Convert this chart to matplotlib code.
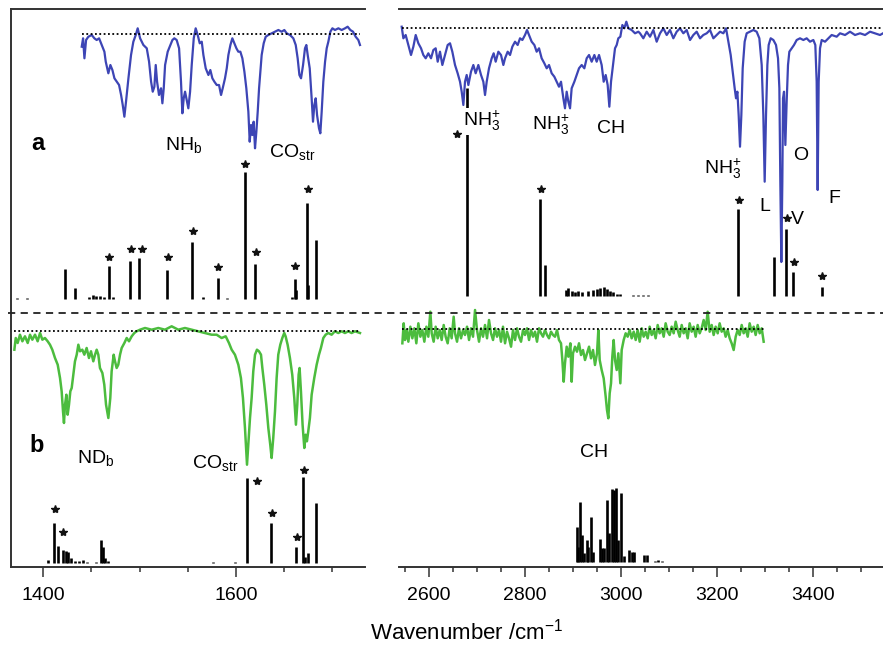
"""IR spectra (a: blue, b: green) with computed stick spectra, broken wavenumber axis."""

import numpy as np
import matplotlib

matplotlib.use("Agg")
import matplotlib.pyplot as plt
from matplotlib.lines import Line2D
from matplotlib.ticker import MultipleLocator

plt.rcParams["font.family"] = ["Liberation Sans", "DejaVu Sans"]
plt.rcParams["mathtext.fontset"] = "custom"
plt.rcParams["mathtext.rm"] = "Liberation Sans"
plt.rcParams["mathtext.it"] = "Liberation Sans:italic"
plt.rcParams["mathtext.bf"] = "Liberation Sans:bold"

# ---- experimental spectra (wavenumber, signal relative to baseline) ----
blue_low = np.array([
    (1440.1, -12.7), (1441.5, -4.3), (1442.9, -24.3), (1444.6, -6.0), (1447.0, -2.7),
    (1450.5, -1.0), (1453.2, -4.3), (1455.6, -6.0), (1458.1, -4.3), (1460.8, -11.0),
    (1463.6, -17.7), (1465.0, -27.7), (1467.7, -39.3), (1469.8, -31.0), (1471.9, -36.0),
    (1474.0, -44.3), (1476.4, -47.7), (1478.8, -51.0), (1480.9, -61.0), (1482.6, -71.0),
    (1484.3, -82.7), (1486.0, -67.7), (1488.5, -44.3), (1491.2, -21.0), (1493.6, -7.7),
    (1496.1, -1.0), (1498.1, 5.7), (1500.6, -4.3), (1504.0, -11.0), (1507.5, -14.3),
    (1509.9, -27.7), (1512.0, -47.7), (1513.7, -57.7), (1515.4, -52.7), (1516.8, -31.0),
    (1518.2, -47.7), (1520.2, -61.0), (1522.3, -54.3), (1523.7, -69.3), (1525.1, -54.3),
    (1526.5, -31.0), (1529.2, -17.7), (1532.0, -11.0), (1534.1, -6.0), (1536.1, -4.3),
    (1538.5, -6.0), (1541.0, -14.3), (1543.0, -47.7), (1544.4, -79.3), (1545.8, -64.3),
    (1547.2, -57.7), (1549.3, -67.7), (1550.6, -74.3), (1552.4, -57.7), (1554.1, -31.0),
    (1556.2, -4.3), (1558.2, 5.7), (1560.3, -1.0), (1562.4, -9.3), (1564.5, -7.7),
    (1566.2, -21.0), (1568.6, -34.3), (1571.4, -41.0), (1573.4, -36.0), (1575.5, -44.3),
    (1577.6, -47.7), (1580.0, -51.0), (1582.4, -51.0), (1584.5, -61.0), (1586.2, -54.3),
    (1588.6, -44.3), (1590.4, -34.3), (1592.1, -21.0), (1594.2, -11.0), (1596.2, -4.3),
    (1598.3, -9.3), (1600.4, -14.3), (1602.4, -17.7), (1604.5, -17.7), (1606.6, -24.3),
    (1608.7, -37.7), (1610.7, -54.3), (1612.8, -77.7), (1614.2, -107.7), (1615.6, -91.0),
    (1616.9, -101.0), (1618.3, -87.7), (1619.7, -114.3), (1621.1, -97.7), (1622.5, -77.7),
    (1623.9, -54.3), (1625.2, -37.7), (1626.6, -21.0), (1628.7, -9.3), (1630.8, -2.7),
    (1633.5, -1.0), (1637.0, 0.7), (1640.4, 2.3), (1643.9, 4.0), (1647.3, 2.3),
    (1650.1, 4.0), (1652.5, 0.7), (1656.0, -1.0), (1659.4, -4.3), (1661.9, -11.0),
    (1663.9, -24.3), (1665.7, -41.0), (1667.4, -44.3), (1669.5, -31.0), (1671.5, -14.3),
    (1672.9, -11.0), (1674.3, -21.0), (1676.4, -34.3), (1678.4, -64.3), (1679.8, -87.7),
    (1681.2, -71.0), (1682.6, -64.3), (1684.0, -81.0), (1686.0, -94.3), (1687.4, -99.3),
    (1688.8, -77.7), (1690.5, -47.7), (1692.3, -27.7), (1694.0, -14.3), (1695.7, -7.7),
    (1697.8, 2.3), (1699.9, 5.7), (1702.6, 4.0), (1706.1, 5.7), (1709.5, 4.0),
    (1713.0, 5.7), (1715.7, 7.3), (1718.5, 4.0), (1721.3, 2.3), (1724.0, -2.7),
    (1726.8, -6.0), (1728.5, -11.0),
])

blue_high = np.array([
    (2543.1, 1.8), (2546.6, -9.8), (2551.4, -6.5), (2557.0, -16.5), (2562.5, -26.5),
    (2567.4, -18.2), (2572.3, -6.5), (2577.8, -14.8), (2583.4, -19.8), (2588.2, -26.5),
    (2593.1, -29.8), (2598.6, -24.8), (2604.2, -29.8), (2609.1, -21.5), (2613.9, -19.8),
    (2618.1, -33.2), (2622.9, -23.2), (2627.8, -36.5), (2633.4, -26.5), (2638.9, -16.5),
    (2643.8, -14.8), (2648.6, -23.2), (2654.2, -36.5), (2659.7, -44.8), (2664.6, -53.2),
    (2668.1, -63.2), (2671.6, -76.5), (2675.0, -53.2), (2678.5, -46.5), (2682.0, -56.5),
    (2687.5, -43.2), (2692.4, -36.5), (2697.2, -44.8), (2702.8, -36.5), (2708.4, -46.5),
    (2713.2, -53.2), (2716.7, -66.5), (2720.2, -53.2), (2725.0, -39.8), (2730.6, -29.8),
    (2734.7, -24.8), (2738.9, -33.2), (2744.5, -23.2), (2750.0, -26.5), (2754.9, -36.5),
    (2758.4, -29.8), (2763.9, -23.2), (2768.8, -26.5), (2773.6, -18.2), (2779.2, -13.2),
    (2784.7, -16.5), (2789.6, -9.8), (2794.5, -11.5), (2800.0, -6.5), (2804.2, -1.5),
    (2808.4, -6.5), (2813.9, -13.2), (2819.5, -16.5), (2824.3, -23.2), (2829.2, -19.8),
    (2834.7, -29.8), (2840.3, -34.8), (2845.2, -39.8), (2850.0, -36.5), (2855.6, -44.8),
    (2861.1, -48.2), (2866.0, -53.2), (2870.8, -58.2), (2875.0, -53.2), (2879.9, -69.8),
    (2883.3, -79.8), (2886.8, -63.2), (2890.3, -73.2), (2893.8, -79.8), (2897.2, -59.8),
    (2902.8, -53.2), (2907.6, -46.5), (2912.5, -39.8), (2918.1, -36.5), (2923.6, -39.8),
    (2928.5, -29.8), (2933.4, -26.5), (2938.9, -33.2), (2944.5, -26.5), (2949.3, -33.2),
    (2954.2, -26.5), (2959.7, -36.5), (2963.9, -53.2), (2968.1, -46.5), (2972.2, -56.5),
    (2975.7, -78.2), (2979.2, -53.2), (2983.3, -36.5), (2987.5, -19.8), (2991.0, -16.5),
    (2994.4, -9.8), (2998.6, -8.2), (3002.8, 3.5), (3006.9, 0.2), (3011.1, 6.8),
    (3015.3, 0.2), (3022.2, -1.5), (3029.2, -4.8), (3036.1, -3.2), (3039.6, -4.8),
    (3046.5, -9.8), (3053.5, -3.2), (3060.4, -8.2), (3067.4, -1.5), (3074.3, -13.2),
    (3081.3, -4.8), (3088.2, 0.2), (3095.2, -6.5), (3102.1, -1.5), (3109.0, -9.8),
    (3116.0, -3.2), (3122.9, 0.2), (3129.9, -4.8), (3136.8, -1.5), (3143.8, -11.5),
    (3150.7, -6.5), (3157.6, -3.2), (3164.6, -9.8), (3171.5, -6.5), (3178.5, -4.8),
    (3185.4, -1.5), (3192.4, -9.8), (3199.3, -6.5), (3206.3, -3.2), (3213.2, -4.8),
    (3218.8, 0.2), (3223.6, -13.2), (3228.5, -26.5), (3232.6, -43.2), (3236.8, -59.8),
    (3239.6, -69.8), (3242.4, -63.2), (3245.1, -86.5), (3247.9, -118.2), (3250.7, -86.5),
    (3253.5, -39.8), (3257.6, -13.2), (3261.8, -4.8), (3268.8, -3.2), (3275.7, -1.5),
    (3282.6, -3.2), (3288.2, -9.8), (3293.1, -36.5), (3296.5, -86.5), (3299.3, -153.2),
    (3302.1, -86.5), (3304.9, -36.5), (3307.6, -16.5), (3311.8, -9.8), (3317.4, -11.5),
    (3322.9, -16.5), (3327.1, -29.8), (3329.9, -59.8), (3331.9, -153.2), (3334.0, -233.5),
    (3336.1, -153.2), (3337.5, -69.8), (3339.6, -63.2), (3342.4, -116.5), (3345.1, -73.2),
    (3347.9, -36.5), (3350.7, -23.2), (3355.6, -19.8), (3360.4, -16.5), (3366.0, -11.5),
    (3372.9, -9.8), (3379.9, -11.5), (3386.8, -9.8), (3393.7, -13.2), (3400.7, -11.5),
    (3404.8, -16.5), (3407.6, -53.2), (3409.7, -161.5), (3411.8, -53.2), (3414.6, -19.8),
    (3418.1, -11.5), (3425.0, -13.2), (3432.0, -9.8), (3438.9, -6.5), (3449.3, -8.2),
    (3456.3, -4.8), (3466.7, -6.5), (3477.1, -3.2), (3487.5, -6.5), (3498.0, -4.8),
    (3508.4, -6.5), (3518.8, -3.2), (3529.2, -4.8), (3539.6, -6.5), (3545.8, -4.8),
])

green_low = np.array([
    (1370.3, -18.4), (1371.7, -6.7), (1373.7, -11.7), (1376.1, -3.4), (1378.6, -10.0),
    (1381.3, -5.0), (1384.1, -11.7), (1386.5, -3.4), (1388.9, -8.4), (1391.7, -3.4),
    (1394.4, -10.0), (1396.9, -1.7), (1399.3, -8.4), (1402.0, -6.7), (1404.8, -10.0),
    (1407.2, -13.4), (1409.6, -18.4), (1412.4, -26.7), (1415.2, -33.4), (1417.6, -46.7),
    (1419.3, -60.0), (1420.7, -80.0), (1421.7, -91.7), (1422.8, -73.4), (1424.2, -63.4),
    (1425.5, -83.4), (1426.9, -73.4), (1428.3, -60.0), (1429.7, -56.7), (1431.4, -43.4),
    (1433.1, -30.0), (1434.9, -23.4), (1436.6, -13.4), (1438.3, -20.0), (1440.7, -18.4),
    (1442.8, -23.4), (1445.2, -16.7), (1447.6, -26.7), (1449.7, -20.0), (1452.1, -30.0),
    (1453.9, -23.4), (1455.6, -18.4), (1457.3, -23.4), (1459.0, -36.7), (1461.5, -41.7),
    (1463.5, -53.4), (1465.3, -73.4), (1467.7, -86.7), (1469.7, -66.7), (1471.1, -40.0),
    (1473.2, -23.4), (1474.6, -30.0), (1476.3, -36.7), (1478.0, -33.4), (1479.8, -23.4),
    (1481.5, -16.7), (1484.3, -11.7), (1486.7, -6.7), (1489.1, -10.0), (1491.9, -5.0),
    (1494.6, -1.7), (1497.0, 0.0), (1500.5, 1.6), (1505.7, 3.3), (1512.6, 1.6),
    (1519.5, 3.3), (1526.4, 1.6), (1533.3, 5.0), (1540.2, 1.6), (1547.1, 3.3),
    (1554.0, 1.6), (1560.9, 0.0), (1567.8, -1.7), (1574.7, -3.4), (1579.9, -3.4),
    (1585.1, -6.7), (1589.3, -5.0), (1592.7, -11.7), (1595.5, -18.4), (1598.9, -23.4),
    (1602.4, -33.4), (1605.1, -46.7), (1607.2, -66.7), (1609.3, -96.7), (1611.4, -133.4),
    (1612.7, -113.4), (1614.5, -86.7), (1616.2, -66.7), (1617.9, -40.0), (1619.7, -23.4),
    (1621.7, -18.4), (1623.8, -20.0), (1625.9, -23.4), (1627.3, -36.7), (1629.3, -53.4),
    (1631.4, -73.4), (1633.5, -96.7), (1635.5, -113.4), (1636.9, -126.7), (1638.6, -106.7),
    (1640.4, -80.0), (1642.1, -46.7), (1643.8, -23.4), (1645.9, -13.4), (1648.0, -6.7),
    (1650.0, -1.7), (1651.4, -5.0), (1653.5, -13.4), (1655.9, -26.7), (1658.3, -43.4),
    (1660.4, -66.7), (1662.1, -93.4), (1663.5, -73.4), (1664.9, -43.4), (1665.9, -36.7),
    (1667.3, -60.0), (1669.0, -93.4), (1670.8, -116.7), (1672.2, -103.4), (1673.5, -110.0),
    (1674.9, -100.0), (1676.6, -86.7), (1678.4, -63.4), (1681.1, -46.7), (1683.6, -33.4),
    (1686.0, -23.4), (1688.0, -16.7), (1690.5, -6.7), (1692.9, -3.4), (1695.6, -1.7),
    (1699.1, -3.4), (1702.5, 0.0), (1706.0, -1.7), (1709.5, 0.0), (1712.9, -1.7),
    (1716.4, 0.0), (1719.8, -1.7), (1723.3, 0.0), (1728.5, -1.7),
])

green_high = np.array([
    (2544.5, -14.3), (2547.3, 5.7), (2550.0, -11.0), (2553.5, -1.0), (2557.0, -12.7),
    (2561.1, 2.3), (2565.3, -9.3), (2569.5, 0.7), (2573.6, -14.3), (2577.8, 5.7),
    (2582.0, -7.7), (2586.1, -1.0), (2590.3, -12.7), (2594.5, 2.3), (2598.6, -7.7),
    (2602.8, 17.3), (2605.6, -4.3), (2609.7, -12.7), (2613.9, 2.3), (2618.1, -9.3),
    (2622.3, -1.0), (2626.4, -11.0), (2630.6, 4.0), (2634.7, -7.7), (2638.9, -14.3),
    (2643.1, 0.7), (2647.2, -9.3), (2651.4, 12.3), (2654.2, -4.3), (2658.4, -12.7),
    (2662.5, 0.7), (2666.7, -9.3), (2670.9, -1.0), (2675.0, -6.0), (2679.2, 2.3),
    (2683.4, -11.0), (2687.5, 0.7), (2691.7, -7.7), (2695.9, 19.0), (2700.0, -1.0),
    (2704.2, -12.7), (2708.4, 0.7), (2712.5, -7.7), (2716.7, 4.0), (2720.9, -9.3),
    (2725.0, 9.0), (2729.2, -4.3), (2733.4, -11.0), (2737.5, 0.7), (2741.7, -7.7),
    (2745.9, -1.0), (2750.0, -12.7), (2754.2, 2.3), (2758.4, -14.3), (2762.5, -2.7),
    (2766.7, -9.3), (2770.9, -17.7), (2775.0, -1.0), (2779.2, -11.0), (2783.4, 0.7),
    (2787.5, -7.7), (2791.7, -12.7), (2795.9, -1.0), (2800.0, -6.0), (2804.2, 0.7),
    (2808.4, -11.0), (2812.5, -1.0), (2816.7, -7.7), (2820.9, -2.7), (2825.0, -12.7),
    (2829.2, 0.7), (2833.4, -4.3), (2837.5, -7.7), (2841.7, -1.0), (2845.9, -6.0),
    (2850.0, -9.3), (2854.2, -2.7), (2858.4, -6.0), (2862.5, -7.7), (2866.7, -1.0),
    (2870.8, -11.0), (2875.0, -14.3), (2877.8, -31.0), (2880.6, -52.7), (2883.3, -34.3),
    (2886.8, -17.7), (2890.3, -27.7), (2894.5, -14.3), (2897.2, -52.7), (2900.0, -24.3),
    (2904.2, -17.7), (2908.3, -22.7), (2912.5, -14.3), (2916.7, -26.0), (2920.8, -21.0),
    (2925.0, -31.0), (2929.2, -24.3), (2933.4, -17.7), (2937.5, -29.3), (2941.7, -21.0),
    (2945.8, -36.0), (2950.0, -24.3), (2952.8, -1.0), (2955.6, -31.0), (2959.7, -41.0),
    (2963.9, -49.3), (2968.1, -67.7), (2970.8, -81.0), (2973.6, -89.3), (2976.4, -64.3),
    (2979.2, -54.3), (2981.9, -27.7), (2984.7, -11.0), (2987.5, -31.0), (2991.0, -41.0),
    (2994.4, -24.3), (2998.6, -54.3), (3001.4, -21.0), (3005.6, -11.0), (3009.7, -4.3),
    (3013.9, -7.7), (3018.1, -1.0), (3022.2, -9.3), (3026.4, -2.7), (3030.6, -11.0),
    (3034.7, -1.0), (3038.9, -12.7), (3043.1, 0.7), (3047.2, -7.7), (3051.4, -2.7),
    (3055.6, -9.3), (3059.7, 2.3), (3063.9, -6.0), (3068.1, -1.0), (3072.2, -9.3),
    (3076.4, 4.0), (3080.5, -4.3), (3084.7, 0.7), (3088.9, -7.7), (3093.0, 5.7),
    (3097.2, -2.7), (3101.4, -6.0), (3105.5, 2.3), (3109.7, -4.3), (3113.9, 7.3),
    (3118.0, -1.0), (3122.2, -7.7), (3126.4, 4.0), (3130.5, -4.3), (3134.7, 0.7),
    (3138.9, -9.3), (3143.0, 5.7), (3147.2, -2.7), (3151.4, 2.3), (3155.5, -7.7),
    (3159.7, 4.0), (3163.9, -4.3), (3168.0, 0.7), (3172.2, 9.0), (3176.4, -1.0),
    (3180.5, 17.3), (3184.7, -2.7), (3188.9, 4.0), (3193.0, -6.0), (3197.2, 2.3),
    (3201.4, -4.3), (3205.5, 5.7), (3209.7, -2.7), (3213.9, 0.7), (3218.0, -7.7),
    (3222.2, -1.0), (3226.4, -9.3), (3230.5, -14.3), (3234.7, -21.0), (3238.9, -7.7),
    (3243.0, -1.0), (3247.2, -6.0), (3251.4, 4.0), (3255.5, -4.3), (3259.7, 0.7),
    (3263.9, -7.7), (3268.0, 5.7), (3272.2, -2.7), (3276.4, 2.3), (3280.5, -6.0),
    (3284.7, 4.0), (3288.9, -4.3), (3293.1, 0.7), (3297.2, -12.7),
])

# ---- computed stick spectra (wavenumber, intensity) ----
sticks_a_low = np.array([
    (1373.5, 1), (1383.1, 1), (1422.5, 30), (1433.5, 11), (1448.0, 2), (1452.1, 4),
    (1454.9, 3), (1459.1, 3), (1463.2, 2), (1468.1, 33.3), (1472.9, 2), (1490.2, 38.3),
    (1499.8, 41), (1528.8, 29.3), (1554.1, 57), (1566.1, 2), (1581.7, 21), (1590.4, 1),
    (1609.3, 127), (1619.7, 35), (1657.7, 2), (1661.1, 20), (1662.5, 8.7), (1673.3, 96),
    (1674.5, 14), (1682.9, 59.3),
])
stars_a_low = np.array([
    (1468.1, 42), (1490.9, 50.3), (1502.6, 50.3), (1529.2, 42), (1555.7, 68.3),
    (1581.7, 32), (1609.3, 135.3), (1620.7, 47.3), (1661.4, 33), (1675.0, 110),
])

sticks_a_high = np.array([
    (2678.5, 208), (2831.3, 96.3), (2842.4, 30.7),
    (2885.4, 6), (2890.2, 8), (2897.2, 5), (2904.2, 4), (2911.1, 5), (2918.1, 4),
    (2931.9, 5), (2942.4, 6), (2949.3, 7), (2956.3, 8), (2964.6, 9), (2970.1, 7),
    (2977.1, 5), (2984.0, 4), (2992.4, 2), (2997.9, 2), (3025.6, 1), (3036.1, 1),
    (3046.5, 1), (3056.9, 1),
    (3244.4, 86.3), (3319.4, 38.3), (3343.8, 66.3), (3359.0, 24), (3418.1, 9),
])
stars_a_high = np.array([
    (2657.6, 161.3), (2833.3, 106.7), (3246.5, 95.7), (3346.5, 77.3), (3361.0, 34),
    (3419.4, 19.7),
])

sticks_b_low = np.array([
    (1404.8, 3.3), (1411.7, 40), (1415.9, 17.3), (1421.1, 13.3), (1423.5, 12.3),
    (1426.3, 11.7), (1429.0, 5), (1433.2, 2.3), (1437.3, 2.7), (1441.8, 3),
    (1445.3, 1.7), (1454.6, 1.7), (1460.1, 23.3), (1461.9, 16.7), (1464.2, 5),
    (1467.7, 2.3), (1576.5, 1), (1599.0, 1.7), (1611.4, 85.7), (1636.0, 40),
    (1662.5, 16.7), (1669.1, 86.7), (1671.5, 6.7), (1674.9, 10), (1682.6, 60.7),
])
stars_b_low = np.array([
    (1412.4, 54), (1420.4, 31.7), (1622.1, 82.3), (1637.3, 50.7), (1662.9, 26.7),
    (1670.5, 93.3),
])

sticks_b_high = np.array([
    (2907.6, 35), (2911.1, 15), (2914.6, 60), (2918.1, 26.7), (2922.9, 8.3),
    (2928.5, 21.7), (2931.9, 15), (2936.8, 45), (2941.0, 10), (2956.3, 22.3),
    (2960.4, 13.3), (2964.6, 13.3), (2970.1, 61.7), (2975.7, 28.3), (2981.3, 72.3),
    (2985.4, 71.7), (2989.6, 73.3), (2993.8, 21.7), (3000.7, 69), (3006.9, 5.7),
    (3017.4, 11.7), (3022.2, 10), (3027.8, 10), (3048.6, 6.7), (3053.5, 6.7),
    (3070.8, 1), (3077.8, 1.7), (3084.7, 1),
])

low_ticks = [1400, 1600]
high_ticks = [2600, 2800, 3000, 3200, 3400]

BLUE = "#3d45b5"
GREEN = "#4cbc3e"
LABEL_FS = 14

fig = plt.figure(figsize=(8.83, 6.47), dpi=100)
ax_lo = fig.add_axes([0.01246, 0.12365, 0.40091, 0.86244])
ax_hi = fig.add_axes([0.45187, 0.12365, 0.54813, 0.86244])


def draw_panel(ax, blue, green, sticks_a, stars_a, sticks_b, stars_b, offs):
    blue_off, sa_off, green_off, sb_off = offs
    for spec, off, color, lw in ((blue, blue_off, BLUE, 1.6), (green, green_off, GREEN, 1.8)):
        ax.plot(spec[:, 0], spec[:, 1] + off, color=color, lw=lw, zorder=4)
        ax.plot([spec[0, 0], spec[-1, 0]], [off, off], color="black", lw=1.3,
                linestyle=(0, (1, 1.4)), zorder=5)
    for st, off in ((sticks_a, sa_off), (sticks_b, sb_off)):
        ax.vlines(st[:, 0], off, st[:, 1] + off, color="black", lw=1.9, zorder=2)
    for stars, off in ((stars_a, sa_off), (stars_b, sb_off)):
        if stars is not None:
            ax.plot(stars[:, 0], stars[:, 1] + off, linestyle="none", marker="*",
                    ms=6, color="#111111", zorder=2)
    ax.set_ylim(0, 558)
    ax.set_yticks([])
    ax.xaxis.set_major_locator(MultipleLocator(200))
    ax.xaxis.set_minor_locator(MultipleLocator(50))
    ax.tick_params(axis="x", which="major", direction="out", length=7.5, width=1.1,
                   labelsize=14, pad=7, color="#333333")
    ax.tick_params(axis="x", which="minor", direction="out", length=3.8, width=1.1,
                   color="#333333")
    ax.spines["right"].set_visible(False)
    for sp in ("top", "bottom", "left"):
        ax.spines[sp].set_linewidth(1.4)
        ax.spines[sp].set_color("#333333")
    ax.set_facecolor("none")


draw_panel(ax_lo, blue_low, green_low, sticks_a_low, stars_a_low, sticks_b_low,
           stars_b_low, (533, 268, 235.7, 3.7))
draw_panel(ax_hi, blue_high, green_high, sticks_a_high, stars_a_high, sticks_b_high,
           None, (538.5, 271.3, 238, 5.3))
ax_hi.spines["left"].set_visible(False)
ax_lo.set_xlim(1366.8, 1733.7)
ax_hi.set_xlim(2537.5, 3545.8)
ax_lo.set_xticks(low_ticks)
ax_hi.set_xticks(high_ticks)

# panel letters and band assignments
ax_lo.text(1394.8, 417, "a", fontsize=17, fontweight="bold", ha="center", va="baseline")
ax_lo.text(1393.8, 115.3, "b", fontsize=17, fontweight="bold", ha="center", va="baseline")
ax_lo.text(1526.4, 417, r"NH$_{\mathregular{b}}$", fontsize=LABEL_FS, va="baseline")
ax_lo.text(1634.2, 410, r"CO$_{\mathregular{str}}$", fontsize=LABEL_FS, va="baseline")
ax_lo.text(1435.2, 103.7, r"ND$_{\mathregular{b}}$", fontsize=LABEL_FS, va="baseline")
ax_lo.text(1554.4, 98.7, r"CO$_{\mathregular{str}}$", fontsize=LABEL_FS, va="baseline")

nh3 = r"NH$_{\mathregular{3}}^{\mathregular{+}}$"
ax_hi.text(2670.8, 441, nh3, fontsize=LABEL_FS, va="baseline", zorder=3,
           bbox=dict(facecolor="white", edgecolor="none", pad=1.0))
ax_hi.text(2814.6, 437.7, nh3, fontsize=LABEL_FS, va="baseline")
ax_hi.text(2950.0, 433.7, "CH", fontsize=LABEL_FS, va="baseline")
ax_hi.text(3172.9, 393.7, nh3, fontsize=LABEL_FS, va="baseline")
ax_hi.text(3288.2, 356.3, "L", fontsize=LABEL_FS, va="baseline")
ax_hi.text(3359.0, 407, "O", fontsize=LABEL_FS, va="baseline")
ax_hi.text(3431.9, 363.7, "F", fontsize=LABEL_FS, va="baseline")
ax_hi.text(3353.5, 342.7, "V", fontsize=LABEL_FS, va="baseline")
ax_hi.text(2914.6, 110.3, "CH", fontsize=LABEL_FS, va="baseline")

# dashed separator between the two isotopologue panels
fig.add_artist(Line2D([0.009, 1.0], [0.5162, 0.5162], color="#222222", lw=1.3,
                      linestyle=(0, (4, 3))))

fig.text(0.529, 0.004, r"Wavenumber /cm$^{\mathregular{-1}}$", fontsize=16,
         ha="center", va="bottom")

fig.savefig("out.png", dpi=100)
